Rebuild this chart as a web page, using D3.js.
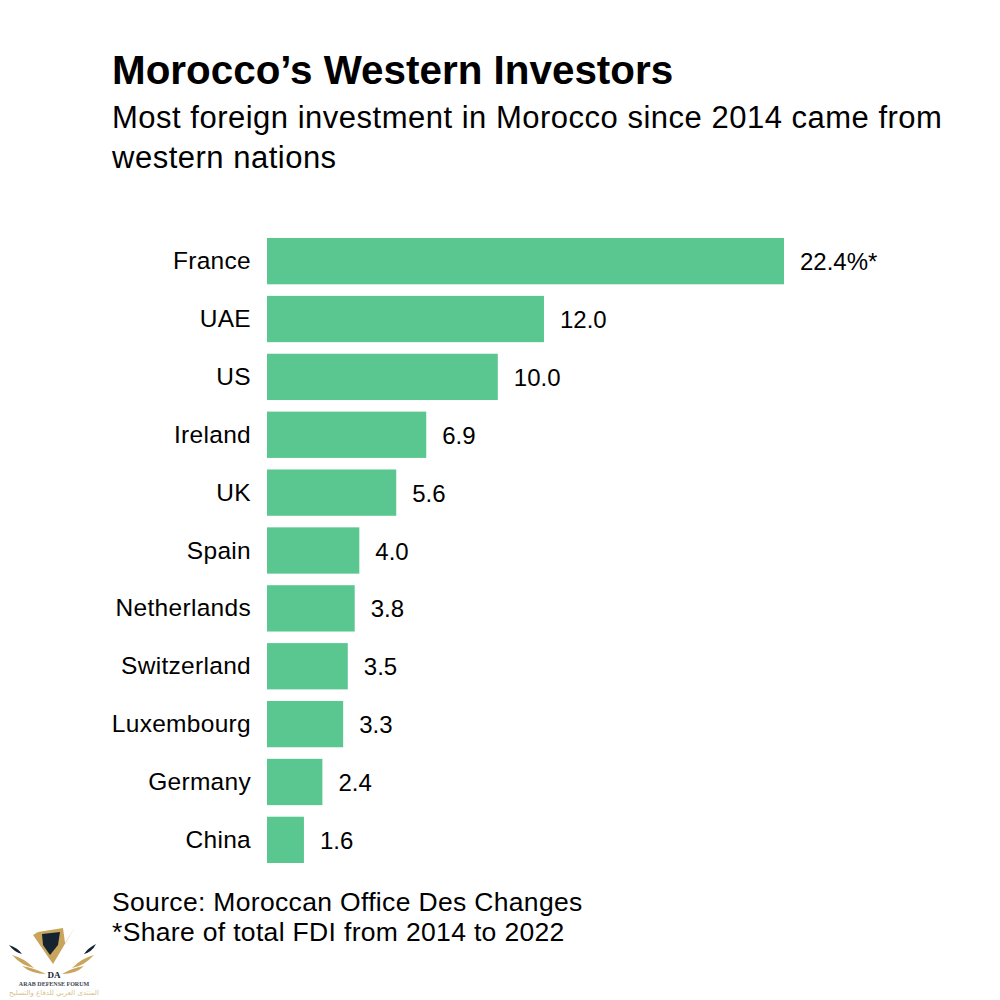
<!DOCTYPE html>
<html>
<head>
<meta charset="utf-8">
<script src="https://cdn.jsdelivr.net/npm/d3@7"></script>
<style>
  html, body { margin: 0; padding: 0; background: #fff; }
  text { font-family: "Liberation Sans", Arial, sans-serif; fill: #000; }
</style>
</head>
<body>
<div id="chart"></div>
<script>
var countries = ["France", "UAE", "US", "Ireland", "UK", "Spain", "Netherlands", "Switzerland", "Luxembourg", "Germany", "China"];
var shares = [22.4, 12.0, 10.0, 6.9, 5.6, 4.0, 3.8, 3.5, 3.3, 2.4, 1.6];
var valueLabels = ["22.4%*", "12.0", "10.0", "6.9", "5.6", "4.0", "3.8", "3.5", "3.3", "2.4", "1.6"];
var subtitleLines = ["Most foreign investment in Morocco since 2014 came from", "western nations"];
var sourceLines = ["Source: Moroccan Office Des Changes", "*Share of total FDI from 2014 to 2022"];

var svg = d3.select("#chart").append("svg")
    .attr("width", 1000)
    .attr("height", 1000);

var x = d3.scaleLinear().domain([0, 22.4]).range([267, 784]);
var y = d3.scaleBand().domain(countries).range([238, 863]).paddingInner(0.2).paddingOuter(0);

svg.append("text")
    .attr("x", 112).attr("y", 84)
    .style("font-size", "40.4px")
    .style("font-weight", 700)
    .text("Morocco’s Western Investors");

svg.selectAll(".subtitle")
    .data(subtitleLines)
    .enter().append("text")
    .attr("class", "subtitle")
    .attr("x", 112)
    .attr("y", function(d, i) { return 128 + i * 40; })
    .style("font-size", "31px")
    .style("letter-spacing", "0.5px")
    .text(function(d) { return d; });

svg.selectAll(".bar")
    .data(countries)
    .enter().append("rect")
    .attr("class", "bar")
    .attr("x", x(0))
    .attr("y", function(d) { return y(d); })
    .attr("width", function(d, i) { return x(shares[i]) - x(0); })
    .attr("height", y.bandwidth())
    .style("fill", "#5ac690");

svg.selectAll(".country")
    .data(countries)
    .enter().append("text")
    .attr("class", "country")
    .attr("x", 251)
    .attr("y", function(d) { return y(d) + y.bandwidth() / 2 + 8; })
    .attr("text-anchor", "end")
    .style("font-size", "24.5px")
    .style("letter-spacing", "0.3px")
    .text(function(d) { return d; });

svg.selectAll(".value")
    .data(countries)
    .enter().append("text")
    .attr("class", "value")
    .attr("x", function(d, i) { return x(shares[i]) + 16; })
    .attr("y", function(d) { return y(d) + y.bandwidth() / 2 + 9; })
    .style("font-size", "24px")
    .text(function(d, i) { return valueLabels[i]; });

svg.selectAll(".source")
    .data(sourceLines)
    .enter().append("text")
    .attr("class", "source")
    .attr("x", 112)
    .attr("y", function(d, i) { return 910.5 + i * 30; })
    .style("font-size", "26.5px")
    .style("letter-spacing", "0.33px")
    .text(function(d) { return d; });

// forum watermark, bottom left
var logo = svg.append("g");
var logoGold = "#c9a45c", logoDark = "#14232f";
logo.append("path").attr("d", "M38 932 L63 928 L65 943 L75 927 L53 964 L33 935 Z").style("fill", logoGold);
logo.append("path").attr("d", "M42 934 L60 932 L58 945 L50 955 L43 945 Z").style("fill", logoDark);
logo.append("path").attr("d", "M9 945 Q18 948 22 954 Q14 952 9 945 Z M96 944 Q88 948 84 954 Q92 952 96 944 Z").style("fill", logoDark);
logo.append("path").attr("d", "M12 955 Q24 958 34 968 Q22 966 12 955 Z M94 955 Q82 958 72 968 Q84 966 94 955 Z").style("fill", logoGold);
logo.append("path").attr("d", "M22 966 Q34 968 46 974 Q32 974 22 966 Z M84 966 Q72 968 62 974 Q76 974 84 966 Z").style("fill", logoGold);
logo.append("text").attr("x", 54).attr("y", 978).attr("text-anchor", "middle")
    .style("font-family", "'Liberation Serif', serif").style("font-size", "9px").style("font-weight", 700)
    .style("fill", logoDark).text("DA");
logo.append("text").attr("x", 54).attr("y", 985.5).attr("text-anchor", "middle")
    .style("font-family", "'Liberation Serif', serif").style("font-size", "6px").style("font-weight", 700)
    .style("fill", "#3c4650").text("ARAB DEFENSE FORUM");
logo.append("text").attr("x", 54).attr("y", 995).attr("text-anchor", "middle")
    .style("font-family", "'DejaVu Sans', sans-serif").style("font-size", "7px")
    .style("fill", "#d9bf8c").text("المنتدى العربي للدفاع والتسليح");
</script>
</body>
</html>
